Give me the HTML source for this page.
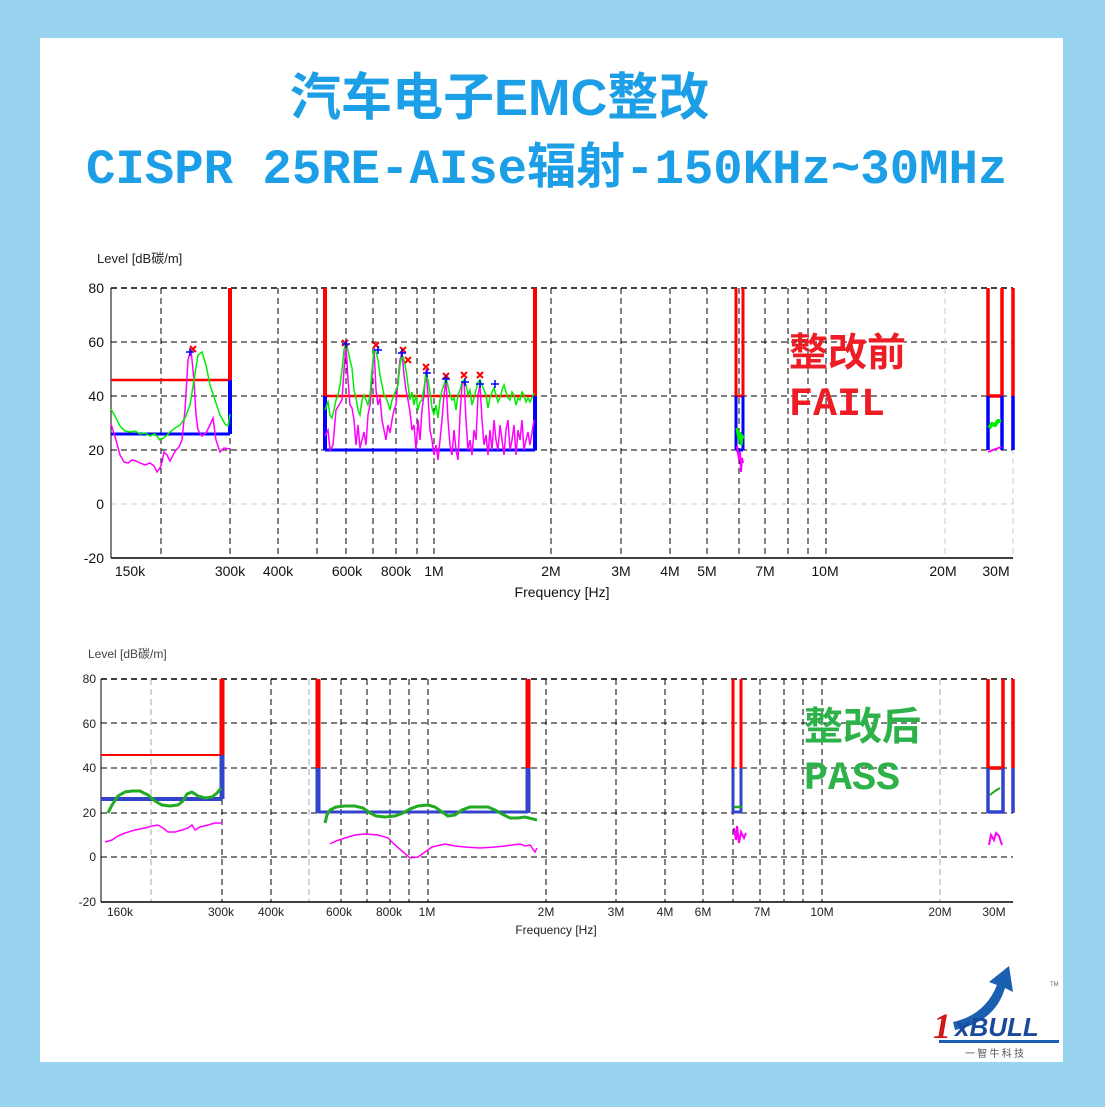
<!DOCTYPE html>
<html><head><meta charset="utf-8"><style>
body{margin:0;width:1105px;height:1107px;background:#98d3ef;position:relative;overflow:hidden;font-family:"Liberation Sans","Noto Sans CJK SC",sans-serif}
#panel{position:absolute;left:40px;top:38px;width:1023px;height:1024px;background:#fff}
.t{position:absolute;white-space:nowrap}
</style></head><body>
<div id="panel"></div>
<div class="t" style="left:290px;top:68px;font-size:51px;font-weight:bold;color:#1c9fe6;font-family:'Liberation Sans','Noto Sans CJK SC',sans-serif;line-height:60px">汽车电子EMC整改</div>
<div class="t" style="left:86px;top:140px;font-size:49px;font-weight:bold;color:#1c9fe6;font-family:'Liberation Mono','Noto Sans CJK SC',monospace;line-height:60px">CISPR 25RE-AIse辐射-150KHz~30MHz</div>

<svg width="1105" height="1107" style="position:absolute;left:0;top:0" font-family="Liberation Sans, sans-serif">
<g>
<text x="97" y="263" font-size="13" fill="#222">Level [dB碳/m]</text>
<g stroke="#000" stroke-width="1" stroke-dasharray="6,4" fill="none">
<line x1="111" y1="288" x2="1013" y2="288" stroke-width="1.5"/>
<line x1="111" y1="342" x2="1013" y2="342"/>
<line x1="111" y1="396" x2="1013" y2="396"/>
<line x1="111" y1="450" x2="1013" y2="450"/>
<line x1="111" y1="504" x2="1013" y2="504" stroke="#ccc"/>
<path d="M161 288V558M230 288V558M278 288V558M317 288V558M346 288V558M373 288V558M396 288V558M417 288V558M434 288V558M551 288V558M621 288V558M670 288V558M707 288V558M739 288V558M765 288V558M788 288V558M808 288V558M826 288V558"/>
<path d="M945 288V558M1013 288V558" stroke="#ccc"/>
</g>
<line x1="111" y1="288" x2="111" y2="558" stroke="#000"/>
<line x1="111" y1="558" x2="1013" y2="558" stroke="#000" stroke-width="1.5"/>
<g font-size="14" fill="#111" text-anchor="end">
<text x="104" y="293">80</text><text x="104" y="347">60</text><text x="104" y="401">40</text><text x="104" y="455">20</text><text x="104" y="509">0</text><text x="104" y="563">-20</text>
</g>
<g font-size="14" fill="#111" text-anchor="middle">
<text x="130" y="576">150k</text><text x="230" y="576">300k</text><text x="278" y="576">400k</text><text x="347" y="576">600k</text><text x="396" y="576">800k</text><text x="434" y="576">1M</text><text x="551" y="576">2M</text><text x="621" y="576">3M</text><text x="670" y="576">4M</text><text x="707" y="576">5M</text><text x="765" y="576">7M</text><text x="825" y="576">10M</text><text x="943" y="576">20M</text><text x="996" y="576">30M</text>
<text x="562" y="597">Frequency [Hz]</text>
</g>
<g fill="none" stroke-width="3">
<path d="M111 380H230" stroke="#f00" stroke-width="2.5"/>
<path d="M111 434H230" stroke="#00f"/>
<path d="M230 288V380" stroke="#f00" stroke-width="4"/><path d="M230 380V434" stroke="#00f" stroke-width="4"/>
<path d="M325 396H535" stroke="#f00" stroke-width="2.5"/>
<path d="M325 450H535" stroke="#00f"/>
<path d="M325 288V396M535 288V396" stroke="#f00" stroke-width="4"/><path d="M325 396V450M535 396V450" stroke="#00f" stroke-width="4"/>
<path d="M736 288V396M743 288V396M736 396H743" stroke="#f00"/><path d="M736 396V450M743 396V450M736 450H743" stroke="#00f"/>
<path d="M988 288V396M1002 288V396M988 396H1002M1013 288V396" stroke="#f00" stroke-width="3.5"/><path d="M988 396V450M1002 396V450M1013 396V450" stroke="#00f" stroke-width="3.5"/>
</g>
<g fill="none" stroke-width="1.5">
<polyline stroke="#f0f" points="111,424 116,440 120,455 124,462 128,463 132,460 136,461 140,463 145,465 150,463 154,466 157,472 160,468 162,462 164,452 167,455 170,461 173,455 176,450 179,447 182,440 185,410 188,360 191,350 194,380 196,415 198,430 202,436 206,433 210,425 213,418 216,440 220,452 224,448 230,449"/>
<polyline stroke="#0e0" points="111,409 116,418 120,426 125,431 130,432 135,431 140,434 145,433 150,436 155,434 160,440 165,437 170,432 175,428 180,425 185,418 190,405 194,380 198,355 202,352 206,365 210,385 215,400 220,415 225,424 228,426 230,414"/>
<polyline stroke="#f0f" points="325,436 328,430 330,450 333,445 336,410 339,405 342,400 344,370 346,345 348,380 350,405 352,408 354,420 356,445 358,425 360,448 362,440 364,432 366,445 368,415 370,405 372,380 374,348 376,390 378,405 380,398 382,420 384,430 386,440 388,425 390,433 392,420 394,410 396,405 398,380 400,360 402,352 404,375 406,390 408,400 410,412 412,430 414,425 416,450 418,420 420,440 422,410 424,395 426,370 428,395 430,430 432,440 434,455 436,445 438,460 440,440 442,420 444,395 446,380 448,420 450,445 452,455 454,430 456,450 458,460 460,415 462,385 464,380 466,420 468,450 470,440 472,455 474,430 476,440 478,395 480,385 482,420 484,445 486,435 488,455 490,430 492,450 494,420 496,440 498,450 500,425 502,440 504,455 506,430 508,420 510,450 512,440 514,425 516,455 518,430 520,440 522,420 524,450 526,440 528,432 530,445 534,420"/>
<polyline stroke="#0e0" points="325,410 328,402 330,415 332,418 334,410 336,400 338,395 340,385 342,370 344,350 346,342 348,350 350,360 352,368 354,390 356,398 358,410 360,415 362,400 364,395 366,400 368,405 370,395 372,370 374,350 376,352 378,360 380,375 382,385 384,395 386,398 388,403 390,410 392,400 394,395 396,390 398,385 400,365 402,355 404,360 406,370 408,385 410,400 412,392 414,405 416,395 418,410 420,402 422,400 424,388 426,373 428,380 430,392 432,408 434,415 436,405 438,418 440,400 442,390 444,385 446,378 448,386 450,395 452,400 454,398 456,410 458,395 460,390 462,382 464,380 466,385 468,395 470,390 472,405 474,398 476,390 478,382 480,380 482,385 484,390 486,395 488,408 490,398 492,392 494,388 496,395 498,402 500,398 502,390 504,385 506,392 508,398 510,400 512,392 514,395 516,405 518,398 520,400 522,392 524,395 526,402 528,398 530,402 534,393"/>
<polyline stroke="#0e0" stroke-width="3" points="737,428 739,440 740,432 741,445 742,436 744,438"/>
<polyline stroke="#f0f" stroke-width="2" points="737,446 739,460 740,452 741,472 742,458 743,463"/>
<polyline stroke="#0e0" stroke-width="4" points="989,428 992,424 995,425 998,421 1001,421"/>
<polyline stroke="#f0f" stroke-width="2" points="988,452 993,450 1001,447"/>
</g>
<g stroke="#f00" stroke-width="2">
<path d="M190 346l6 6M196 346l-6 6M342 340l6 6M348 340l-6 6M373 342l6 6M379 342l-6 6M400 347l6 6M406 347l-6 6M405 357l6 6M411 357l-6 6M423 364l6 6M429 364l-6 6M443 373l6 6M449 373l-6 6M461 372l6 6M467 372l-6 6M477 372l6 6M483 372l-6 6"/>
</g>
<g stroke="#00f" stroke-width="1.5">
<path d="M186 352h8M190 348v8M342 344h8M346 340v8M374 350h8M378 346v8M398 353h8M402 349v8M423 373h8M427 369v8M442 379h8M446 375v8M461 382h8M465 378v8M476 384h8M480 380v8M491 384h8M495 380v8"/>
</g>
</g>

<g>
<text x="88" y="658" font-size="12" fill="#444">Level [dB碳/m]</text>
<g stroke="#000" stroke-width="1" stroke-dasharray="6,4" fill="none">
<line x1="101" y1="679" x2="1013" y2="679" stroke-width="1.5"/>
<line x1="101" y1="723" x2="1013" y2="723"/>
<line x1="101" y1="768" x2="1013" y2="768"/>
<line x1="101" y1="813" x2="1013" y2="813"/>
<line x1="101" y1="857" x2="1013" y2="857"/>
<path d="M222 679V902M271 679V902M341 679V902M367 679V902M390 679V902M409 679V902M428 679V902M546 679V902M616 679V902M665 679V902M703 679V902M733 679V902M760 679V902M784 679V902M803 679V902M822 679V902"/>
<path d="M151 679V902M309 679V902M940 679V902" stroke="#aaa"/>
</g>
<line x1="101" y1="679" x2="101" y2="902" stroke="#000"/>
<line x1="101" y1="902" x2="1013" y2="902" stroke="#000" stroke-width="1.5"/>
<g font-size="12" fill="#222" text-anchor="end">
<text x="96" y="683">80</text><text x="96" y="728">60</text><text x="96" y="772">40</text><text x="96" y="817">20</text><text x="96" y="861">0</text><text x="96" y="906">-20</text>
</g>
<g font-size="12" fill="#222" text-anchor="middle">
<text x="120" y="916">160k</text><text x="221" y="916">300k</text><text x="271" y="916">400k</text><text x="339" y="916">600k</text><text x="389" y="916">800k</text><text x="427" y="916">1M</text><text x="546" y="916">2M</text><text x="616" y="916">3M</text><text x="665" y="916">4M</text><text x="703" y="916">6M</text><text x="762" y="916">7M</text><text x="822" y="916">10M</text><text x="940" y="916">20M</text><text x="994" y="916">30M</text>
<text x="556" y="934">Frequency [Hz]</text>
</g>
<g fill="none" stroke-width="3">
<path d="M101 755H222" stroke="#f00" stroke-width="2"/>
<path d="M101 799H222" stroke="#34c" stroke-width="4"/>
<path d="M222 679V755" stroke="#f00" stroke-width="5"/><path d="M222 755V799" stroke="#34c" stroke-width="5"/>
<path d="M318 679V768M528 679V768" stroke="#f00" stroke-width="5"/><path d="M318 768V813M528 768V813" stroke="#34c" stroke-width="5"/>
<path d="M318 812H528" stroke="#34c"/>
<path d="M733 679V768M741 679V768" stroke="#f00"/><path d="M733 768V813M741 768V813M733 812H741" stroke="#34c"/>
<path d="M988 679V768M1003 679V768M1013 679V768M988 768H1003" stroke="#f00" stroke-width="3.5"/><path d="M988 768V813M1003 768V813M1013 768V813M988 812H1003" stroke="#34c" stroke-width="3.5"/>
</g>
<g fill="none">
<polyline stroke="#2a2" stroke-width="3" points="108,813 112,805 118,796 125,792 132,791 140,791 148,795 155,801 162,805 170,806 178,805 183,801 187,794 192,792 198,796 205,798 212,797 217,793 221,788"/>
<polyline stroke="#f0f" stroke-width="1.5" points="105,842 112,840 118,836 125,833 135,830 145,828 152,826 158,825 163,828 168,832 175,832 182,830 188,828 192,825 195,830 200,827 208,825 215,823 222,823"/>
<polyline stroke="#2a2" stroke-width="3" points="325,823 327,815 330,810 336,807 345,806 355,806 363,808 370,813 376,816 385,817 395,816 403,813 410,809 418,806 428,805 435,807 442,812 448,816 455,815 462,810 470,807 480,807 488,807 495,810 502,814 510,818 518,818 525,817 537,820"/>
<polyline stroke="#f0f" stroke-width="1.5" points="330,844 336,841 345,838 355,835 365,834 378,835 388,838 395,845 402,851 410,858 418,857 425,852 432,847 445,844 455,846 465,847 480,848 495,847 505,846 512,845 520,844 525,846 530,845 535,852 537,848"/>
<polyline stroke="#2a2" stroke-width="2.5" points="734,807 742,807"/>
<polyline stroke="#f0f" stroke-width="2" points="734,828 736,840 737,826 739,843 741,832 744,838 746,833"/>
<polyline stroke="#f0f" stroke-width="2" points="989,845 991,835 994,840 996,833 999,836 1002,845"/>
<polyline stroke="#2a2" stroke-width="2" points="990,795 995,791 1000,788"/>
</g>
</g>
</svg>

<div class="t" style="left:789px;top:330px;font-size:39px;font-weight:bold;color:#ee1c24;line-height:48px;font-family:'Liberation Sans','Noto Sans CJK SC',sans-serif">整改前</div>
<div class="t" style="left:789px;top:382px;font-size:40px;font-weight:bold;color:#ee1c24;line-height:48px;font-family:'Liberation Mono',monospace">FAIL</div>
<div class="t" style="left:804px;top:704px;font-size:39px;font-weight:bold;color:#2db24a;line-height:48px;font-family:'Liberation Sans','Noto Sans CJK SC',sans-serif">整改后</div>
<div class="t" style="left:804px;top:756px;font-size:40px;font-weight:bold;color:#2db24a;line-height:48px;font-family:'Liberation Mono',monospace">PASS</div>

<svg width="140" height="110" style="position:absolute;left:925px;top:960px">
<path d="M28 62 Q60 55 72 25 L64 22 L84 6 L88 32 L80 28 Q70 62 30 70Z" fill="#1a5fb0"/>
<text x="8" y="78" font-size="36" font-style="italic" font-weight="bold" fill="#d01818" font-family="Liberation Serif, serif">1</text>
<text x="30" y="76" font-size="26" font-style="italic" font-weight="bold" fill="#1a4a9a">xBULL</text>
<rect x="14" y="80" width="120" height="3" fill="#1a5fb0"/>
<text x="40" y="97" font-size="10" fill="#555" font-family="Noto Sans CJK SC, sans-serif">一 智 牛 科 技</text>
<text x="125" y="26" font-size="6" fill="#666">TM</text>
</svg>
</body></html>
